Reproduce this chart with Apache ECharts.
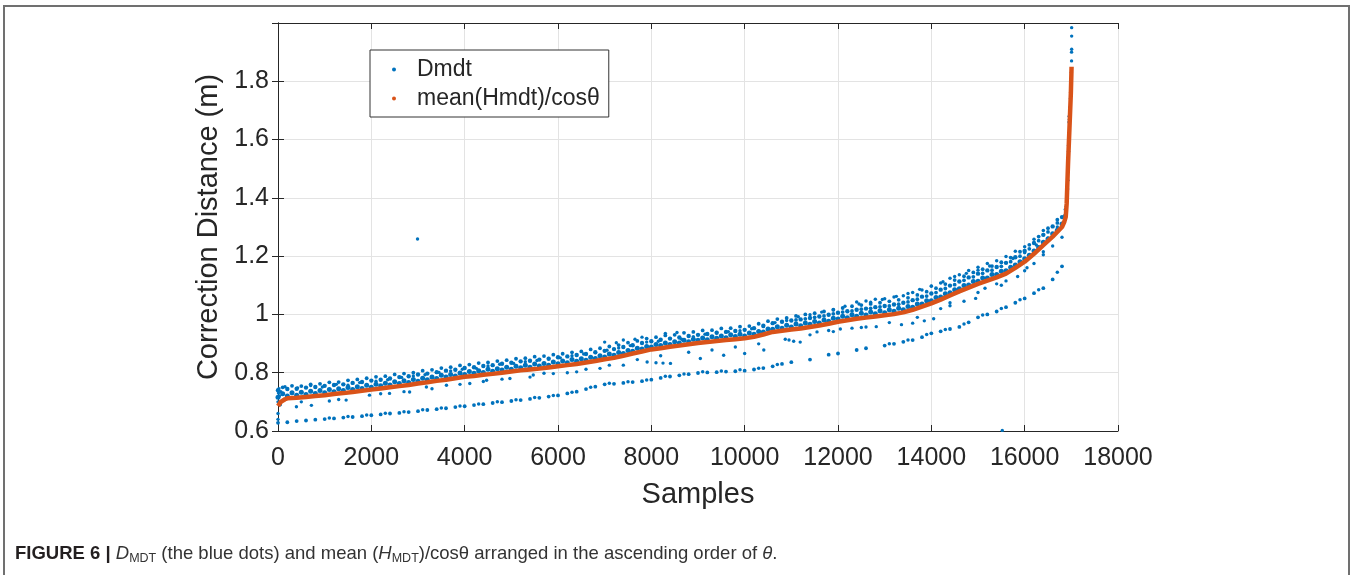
<!DOCTYPE html>
<html>
<head>
<meta charset="utf-8">
<script src="https://cdn.jsdelivr.net/npm/echarts@6/dist/echarts.min.js"></script>
<style>html,body{margin:0;padding:0;background:#fff;}#c{width:1352px;height:575px;}</style>
</head>
<body>
<div id="c"></div>
<script>
// ---- data ----
const samples = [0,200,400,600,800,1000,1200,1400,1600,1800,2000,2200,2400,2600,2800,3000,3200,3400,3600,3800,4000,4200,4400,4600,4800,5000,5200,5400,5600,5800,6000,6200,6400,6600,6800,7000,7200,7400,7600,7800,8000,8200,8400,8600,8800,9000,9200,9400,9600,9800,10000,10200,10400,10600,10800,11000,11200,11400,11600,11800,12000,12200,12400,12600,12800,13000,13200,13400,13600,13800,14000,14200,14400,14600,14800,15000,15200,15400,15600,15800,16000,16200,16400,16600,16800];
const samplesMid = [100,300,500,700,900,1100,1300,1500,1700,1900,2100,2300,2500,2700,2900,3100,3300,3500,3700,3900,4100,4300,4500,4700,4900,5100,5300,5500,5700,5900,6100,6300,6500,6700,6900,7100,7300,7500,7700,7900,8100,8300,8500,8700,8900,9100,9300,9500,9700,9900,10100,10300,10500,10700,10900,11100,11300,11500,11700,11900,12100,12300,12500,12700,12900,13100,13300,13500,13700,13900,14100,14300,14500,14700,14900,15100,15300,15500,15700,15900,16100,16300,16500,16700];

// mean(Hmdt)/cos(theta) on the sample grid
const meanY = [0.708,0.712,0.714,0.717,0.720,0.723,0.727,0.730,0.734,0.738,
 0.742,0.746,0.750,0.754,0.758,0.763,0.767,0.772,0.776,0.781,
 0.786,0.789,0.793,0.796,0.800,0.804,0.808,0.811,0.814,0.818,
 0.822,0.826,0.830,0.835,0.840,0.846,0.851,0.858,0.866,0.873,
 0.880,0.884,0.889,0.893,0.898,0.902,0.905,0.909,0.912,0.915,
 0.918,0.923,0.931,0.940,0.944,0.948,0.952,0.957,0.962,0.968,
 0.975,0.980,0.985,0.989,0.993,0.997,1.001,1.007,1.016,1.027,
 1.038,1.051,1.065,1.079,1.092,1.105,1.116,1.127,1.140,1.160,
 1.181,1.208,1.238,1.267,1.300];
const meanHeadX = [0,30,60,100,150];
const meanHeadY = [0.686,0.692,0.700,0.705,0.709];
const meanTailX = [16850,16880,16900,16915,16930,16945,16960,16975,16990,17005];
const meanTailY = [1.318,1.335,1.380,1.450,1.520,1.580,1.640,1.700,1.760,1.850];

// Dmdt: dense upper band strands
const dmdtA = [0.716,0.720,0.723,0.725,0.729,0.731,0.735,0.739,0.742,0.746,
 0.750,0.755,0.758,0.763,0.766,0.771,0.776,0.780,0.785,0.789,
 0.794,0.798,0.801,0.805,0.809,0.812,0.817,0.819,0.823,0.826,
 0.831,0.834,0.839,0.843,0.849,0.854,0.860,0.866,0.874,0.881,
 0.888,0.893,0.897,0.902,0.906,0.911,0.913,0.918,0.920,0.924,
 0.926,0.932,0.940,0.949,0.953,0.957,0.961,0.966,0.971,0.977,
 0.984,0.989,0.994,0.998,1.002,1.006,1.011,1.016,1.025,1.036,
 1.047,1.060,1.074,1.088,1.101,1.114,1.125,1.137,1.150,1.170,
 1.191,1.218,1.248,1.277,1.310];
const dmdtB = [0.728,0.731,0.733,0.736,0.739,0.742,0.745,0.749,0.752,0.757,
 0.760,0.764,0.769,0.772,0.777,0.781,0.785,0.791,0.794,0.799,
 0.804,0.807,0.812,0.814,0.819,0.822,0.826,0.830,0.832,0.837,
 0.840,0.845,0.848,0.853,0.858,0.864,0.869,0.876,0.884,0.890,
 0.897,0.902,0.906,0.911,0.915,0.919,0.923,0.926,0.930,0.932,
 0.936,0.941,0.950,0.958,0.963,0.967,0.971,0.976,0.981,0.987,
 0.994,0.999,1.004,1.008,1.013,1.016,1.021,1.027,1.036,1.047,
 1.058,1.071,1.085,1.099,1.113,1.125,1.137,1.148,1.162,1.181,
 1.203,1.230,1.259,1.289];
const dmdtC = [0.740,0.744,0.745,0.749,0.751,0.755,0.758,0.760,0.765,0.768,
 0.773,0.776,0.780,0.785,0.788,0.794,0.797,0.802,0.807,0.810,
 0.816,0.819,0.823,0.826,0.831,0.834,0.839,0.841,0.845,0.848,
 0.853,0.856,0.861,0.864,0.870,0.875,0.881,0.888,0.894,0.902,
 0.908,0.913,0.917,0.921,0.926,0.930,0.933,0.937,0.940,0.943,
 0.947,0.953,0.961,0.970,0.975,0.979,0.983,0.988,0.993,0.999,
 1.006,1.011,1.016,1.020,1.025,1.029,1.034,1.040,1.049,1.061,
 1.072,1.085,1.099,1.113,1.127,1.140,1.151,1.163,1.177,1.196,
 1.218,1.245,1.273,1.302,1.334];
const dmdtG = [0.750,0.755,0.754,0.760,0.762,0.767,0.768,0.774,0.777,0.781,
 0.786,0.788,0.794,0.797,0.800,0.807,0.810,0.816,0.819,0.825,
 0.828,0.833,0.835,0.840,0.843,0.848,0.850,0.855,0.857,0.862,
 0.865,0.870,0.873,0.880,0.884,0.890,0.895,0.903,0.909,0.917,
 0.922,0.928,0.930,0.937,0.940,0.945,0.946,0.952,0.953,0.958,
 0.960,0.968,0.977,0.984,0.988,0.981,0.985,0.990,0.995,1.002,
 1.008,1.012,1.018,1.021,1.026,1.029,1.035,1.043,1.052,1.063,
 1.075,1.089,1.102,1.117,1.129,1.141,1.152,1.165,1.181,1.200,
 1.225,1.253,1.283,1.314];
// upper streaks from 11100 (E, mid grid) and 12400 (F) onward
const dmdtE = [0.995,1.000,1.004,1.010,1.016,1.022,1.028,1.032,1.036,1.040,1.045,1.050,1.057,1.067,1.078,1.090,1.104,1.118,1.131,1.144,1.155,1.166,1.179,1.195,1.215,1.239,1.267,1.296,1.325];
const dmdtF = [1.043,1.046,1.052,1.054,1.060,1.064,1.075,1.084,1.097,1.108,1.124,1.136,1.151,1.162,1.175,1.184,1.199,1.217,1.232,1.258,1.288];
// scattered points above the dense band
const scatterX = [150,420,700,950,1250,1500,1750,2100,2350,2650,2900,3150,3450,3700,3950,4250,4500,4750,5050,5300,5550,5800,6050,6300,6550,6800,7000,7050,7250,7300,7400,7550,7650,7800,7900,8150,8300,8400,8550,8650,8900,9150,9400,9650,9900,10150,10400,10650,10900,11150,11400,11650,11900,12150,12450,12700,12950,13250,13500,13750,14000,14250,14500,14750,15000,15250,15500,15750,16000,16250,16500,16700];
const scatterY = [0.752,0.748,0.756,0.751,0.760,0.757,0.766,0.771,0.776,0.784,0.789,0.793,0.801,0.806,0.812,0.815,0.823,0.829,0.832,0.838,0.842,0.849,0.851,0.858,0.864,0.869,0.905,0.877,0.903,0.885,0.912,0.893,0.915,0.922,0.905,0.908,0.935,0.918,0.938,0.915,0.924,0.932,0.938,0.941,0.944,0.951,0.958,0.972,0.979,0.992,0.999,1.008,1.016,1.028,1.036,1.042,1.051,1.062,1.072,1.086,1.098,1.112,1.130,1.141,1.152,1.166,1.178,1.192,1.212,1.238,1.262,1.300];
// scattered points just below the mean curve
const belowX = [500,1300,2200,2700,3300,3900,4400,4800,5400,5700,6200,6600,7100,7700,8200,8800,9300,9800,10300,11400,11900,12500,13100,13700,14400,15000,15500,16000,16400];
const belowY = [0.700,0.708,0.728,0.735,0.745,0.760,0.770,0.778,0.785,0.798,0.800,0.812,0.826,0.845,0.858,0.870,0.878,0.888,0.899,0.930,0.941,0.955,0.972,0.990,1.030,1.075,1.100,1.150,1.205];
// lowest band on the sample grid (null = gap)
const lowY = [0.628,0.630,0.634,0.636,0.639,0.641,0.643,0.646,0.648,0.651,
 0.654,0.657,0.660,0.662,0.665,0.668,0.672,0.675,0.678,0.682,
 0.685,0.689,0.692,0.696,0.699,0.703,0.706,0.710,0.714,0.718,
 0.722,0.729,0.735,0.744,0.752,0.760,0.762,0.765,0.768,0.771,
 0.776,0.782,0.787,0.791,0.795,0.799,0.801,0.802,0.804,0.805,
 0.807,0.811,0.816,0.822,0.830,0.836,null,0.845,null,0.862,
 0.866,null,0.878,0.884,null,0.893,0.899,0.906,0.912,0.922,
 0.935,0.942,0.950,0.957,0.973,0.990,1.000,1.010,1.025,1.040,
 1.055,1.073,1.090,1.120,1.165];
const low2X = [1100,1500,1900,2300,2700,3100,3500,3900,4300,4700,5100,5500,5900,6300,6700,7100,7500,7900,8300,8700,9100,9500,9900,10300,10700,13100,13500,13900,14300,14700,15100,15500,15900,16300,16700];
const low2Y = [0.645,0.650,0.655,0.661,0.666,0.673,0.679,0.686,0.693,0.700,0.707,0.715,0.722,0.733,0.750,0.764,0.769,0.775,0.788,0.796,0.803,0.806,0.810,0.815,0.828,0.899,0.912,0.931,0.948,0.967,0.998,1.020,1.050,1.085,1.145];
// middle sparse band
const midX = [395,716,1100,1460,1960,2390,2820,3180,3610,4110,4470,4970,5470,5900,6400,6900,7400,7910,8100,8250,8410,9050,9550,10000,10410,10870,10950,11050,11190,11550,11800,12050,12300,12600,12820,13360,13600,13850,14050,14200,14400,14700,14950,15150,15400,15600,15850,16050,16200,16400,16600,16800];
const midY = [0.683,0.688,0.703,0.706,0.723,0.729,0.734,0.751,0.757,0.763,0.774,0.780,0.792,0.797,0.803,0.815,0.826,0.837,0.834,0.833,0.832,0.849,0.860,0.866,0.878,0.915,0.912,0.908,0.905,0.940,0.945,0.950,0.953,0.957,0.958,0.965,0.970,0.978,0.985,1.020,1.040,1.045,1.055,1.090,1.105,1.115,1.130,1.160,1.175,1.215,1.235,1.265];
// start spread, steep tail and outliers
const headX = [0,0,0,10,20,30,50,60];
const headY = [0.640,0.660,0.700,0.730,0.745,0.720,0.690,0.735];
const tailX = [16860,16870,16880,16890,16900,16910,16920,16925,16930,16940,16940,16945,16950,16955,16960,16965,16970,16980,16985,16990,16995,17000,17005,17005,17007,17007,17007];
const tailY = [1.340,1.360,1.350,1.370,1.390,1.410,1.430,1.460,1.500,1.560,1.580,1.620,1.660,1.680,1.670,1.690,1.710,1.740,1.760,1.780,1.800,1.830,1.870,1.900,1.910,1.955,1.984];
const outlierX = [2990,15520];
const outlierY = [1.259,0.602];

const xTicks = {min:0, max:18000, interval:2000};
const yTicks = {min:0.6, max:2.0, interval:0.2};

// ---- build ----
const pairs = (xs, ys) => ys.map((y,i)=>[xs[i], y]).filter(p => p[1] !== null && p[0] !== undefined);
const BLUE = '#0072BD', ORANGE = '#D95319';
const meanData = pairs(meanHeadX, meanHeadY)
  .concat(pairs(samples.slice(1), meanY.slice(1)))
  .concat(pairs(meanTailX, meanTailY));

const blueSets = [
  [pairs(samples, dmdtA), 5], [pairs(samplesMid, dmdtB), 5], [pairs(samples, dmdtC), 4.4],
  [pairs(samplesMid, dmdtG), 3.8],
  [pairs(samplesMid.slice(55), dmdtE), 3.8], [pairs(samples.slice(62), dmdtF), 3.5],
  [pairs(scatterX, scatterY), 3.4], [pairs(belowX, belowY), 3.4],
  [pairs(samples, lowY), 3.8], [pairs(low2X, low2Y), 3.5],
  [pairs(midX, midY), 3.4], [pairs(headX, headY), 3.4], [pairs(tailX, tailY), 3.4], [pairs(outlierX, outlierY), 3.4]
];

const FONT = 'Liberation Sans, Arial, Helvetica, sans-serif';
const AX = '#262626';
const chart = echarts.init(document.getElementById('c'), null, {renderer:'canvas'});
const series = blueSets.map(s => ({
  name:'Dmdt', type:'scatter', data:s[0], symbol:'circle', symbolSize:s[1],
  itemStyle:{color:BLUE, opacity:1}, silent:true, z:2, animation:false
}));
series.push({
  name:'mean(Hmdt)/cosθ', type:'line', data:meanData, showSymbol:false, symbol:'circle',
  lineStyle:{color:ORANGE, width:4.5}, itemStyle:{color:ORANGE}, z:3, animation:false, silent:true
});

const baseX = {
  type:'value', min:xTicks.min, max:xTicks.max, interval:xTicks.interval,
  axisLine:{show:true, lineStyle:{color:AX, width:1}},
  axisTick:{show:true, inside:true, length:6, lineStyle:{color:AX}},
};
const baseY = {
  type:'value', min:yTicks.min, max:yTicks.max, interval:yTicks.interval,
  axisLine:{show:true, lineStyle:{color:AX, width:1}},
  axisTick:{show:true, inside:true, length:6, lineStyle:{color:AX}},
};

chart.setOption({
  backgroundColor:'#ffffff',
  animation:false,
  grid:{left:278, right:234, top:23, bottom:144, containLabel:false},
  legend:{
    data:['Dmdt','mean(Hmdt)/cosθ'], orient:'vertical', left:370, top:50,
    icon:'circle', itemWidth:36, itemHeight:4, itemGap:6,
    padding:[8,9,7,22], borderColor:'#333', borderWidth:1, backgroundColor:'#fff',
    textStyle:{fontFamily:FONT, fontSize:23, color:'#262626'}
  },
  xAxis:[
    Object.assign({}, baseX, {
      position:'bottom', name:'Samples', nameLocation:'middle', nameGap:49,
      nameTextStyle:{fontFamily:FONT, fontSize:29, color:AX},
      axisLabel:{fontFamily:FONT, fontSize:25, color:AX, margin:15, formatter:v=>String(v)},
      splitLine:{show:true, lineStyle:{color:'#e3e3e3', width:1}}
    }),
    Object.assign({}, baseX, {position:'top', axisLabel:{show:false}, splitLine:{show:false}})
  ],
  yAxis:[
    Object.assign({}, baseY, {
      position:'left', name:'Correction Distance (m)', nameLocation:'middle', nameGap:52,
      nameTextStyle:{fontFamily:FONT, fontSize:29, color:AX},
      axisLabel:{fontFamily:FONT, fontSize:25, color:AX, margin:9, showMaxLabel:false,
        formatter:v=>String(+(+v).toFixed(1))},
      splitLine:{show:true, lineStyle:{color:'#e3e3e3', width:1}}
    }),
    Object.assign({}, baseY, {position:'right', axisLabel:{show:false}, splitLine:{show:false}})
  ],
  series: series,
  graphic:[
    {type:'polyline', silent:true, shape:{points:[[4,576],[4,6],[1349,6],[1349,576]]},
     style:{stroke:'#707070', lineWidth:2, fill:null}},
    {type:'text', left:15, top:543, silent:true,
     style:{
       text:'{b|FIGURE 6 |} {i|D}{s|MDT}{n| (the blue dots) and mean (}{i|H}{s|MDT}{n|)/cosθ arranged in the ascending order of }{i|θ}{n|.}',
       fontFamily:FONT, fontSize:18.5, fill:'#333',
       rich:{
         b:{fontFamily:FONT, fontSize:18.5, fontWeight:'bold', fill:'#231f20', lineHeight:22},
         n:{fontFamily:FONT, fontSize:18.5, fill:'#333', lineHeight:22},
         i:{fontFamily:FONT, fontSize:18.5, fontStyle:'italic', fill:'#333', lineHeight:22},
         s:{fontFamily:FONT, fontSize:12.5, fill:'#333', lineHeight:13, padding:[9,0,0,0]}
       }
     }}
  ]
});
</script>
</body>
</html>
